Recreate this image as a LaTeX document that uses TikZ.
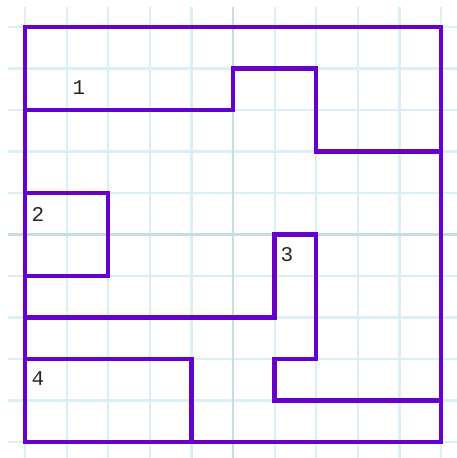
\documentclass[tikz,border=0pt]{standalone}
\usepackage{fontspec}
\setmonofont{Liberation Mono}
\definecolor{gridblue}{RGB}{218,238,245}
\definecolor{gridmid}{RGB}{200,220,228}
\definecolor{wall}{RGB}{102,0,204}
\tikzset{
  gridline/.style={line width=2.2pt, draw=gridblue},
  midline/.style={line width=2.2pt, draw=gridmid},
  wallline/.style={line width=4.5pt, draw=wall, line join=miter, line cap=rect},
  lbl/.style={font=\ttfamily\fontsize{21}{21}\selectfont, inner sep=0pt, text=black!85}
}
\begin{document}
\begin{tikzpicture}[x=1pt,y=-1pt]
\useasboundingbox (0,0) rectangle (457,458);
% grid
\foreach \i in {0,1,2,3,4,6,7,8,9,10} {
  \draw[gridline] ({25+41.6*\i},7) -- ({25+41.6*\i},458);
  \draw[gridline] (8,{27+41.5*\i}) -- (457,{27+41.5*\i});
}
\draw[midline] ({25+41.6*5},7) -- ({25+41.6*5},458);
\draw[midline] (8,{27+41.5*5}) -- (457,{27+41.5*5});
% walls
\begin{scope}[shift={(25,27)}, x=41.6pt, y=-41.5pt]
\draw[wallline] (0,0) rectangle (10,10);
\draw[wallline] (0,2) -- (5,2) -- (5,1) -- (7,1) -- (7,3) -- (10,3);
\draw[wallline] (0,4) -- (2,4) -- (2,6) -- (0,6);
\draw[wallline] (0,7) -- (6,7) -- (6,5) -- (7,5) -- (7,8) -- (6,8) -- (6,9) -- (10,9);
\draw[wallline] (0,8) -- (4,8) -- (4,10);
\end{scope}
% labels
\node[lbl] (l1) at (79,88) {1};
\node[lbl] (l2) at (38,214) {2};
\node[lbl] (l3) at (287,255) {3};
\node[lbl] (l4) at (38,379) {4};
\end{tikzpicture}
\end{document}
